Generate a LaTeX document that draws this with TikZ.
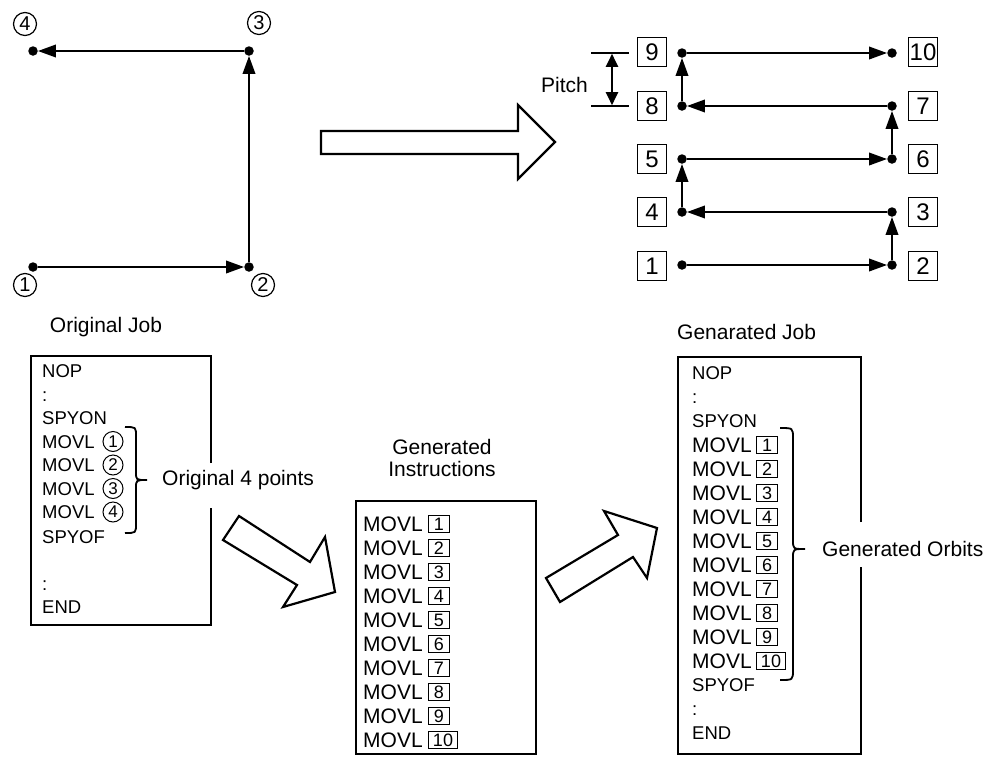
\documentclass[tikz,border=0pt]{standalone}
\usepackage{fontspec}
\setmainfont{Liberation Sans}
\usetikzlibrary{arrows.meta}
\begin{document}
\begin{tikzpicture}[x=1pt,y=-1pt,
  dot/.style={circle,fill=black,inner sep=0pt,minimum size=9.5pt},
  conn/.style={line width=2.1pt,-{Triangle[length=18pt,width=12.5pt]}},
  circnum/.style={circle,draw,line width=1.2pt,inner sep=0pt,minimum size=23pt,font=\fontsize{20}{20}\selectfont},
  smallcirc/.style={circle,draw,line width=1pt,inner sep=0pt,minimum size=20pt,font=\fontsize{17}{17}\selectfont},
  bignum/.style={draw,line width=1.4pt,minimum size=29pt,inner sep=0pt,font=\fontsize{24}{24}\selectfont},
  numbox/.style={draw,line width=1pt,minimum width=21pt,minimum height=17pt,inner sep=0pt,font=\fontsize{18}{18}\selectfont,anchor=west},
  jobtxt/.style={anchor=base west,inner sep=0pt,font=\fontsize{18.5}{18.5}\selectfont},
  movtxt/.style={anchor=base west,inner sep=0pt,font=\fontsize{21}{21}\selectfont},
  lbl/.style={inner sep=0pt,font=\fontsize{21}{21}\selectfont},
  jobbox/.style={line width=2.2pt},
  hollow/.style={draw,line width=2.2pt,line join=miter,fill=white},
  bracestyle/.style={line width=1.8pt}
]
\useasboundingbox (0,0) rectangle (997,756);

% ---------- top-left original path ----------
\node[dot] (p1) at (33,267) {};
\node[dot] (p2) at (249,267) {};
\node[dot] (p3) at (249,51) {};
\node[dot] (p4) at (33,51) {};
\draw[conn] (p1) -- (p2);
\draw[conn] (p2) -- (p3);
\draw[conn] (p3) -- (p4);
\node[circnum] (c1) at (25,285) {1};
\node[circnum] (c2) at (263,285) {2};
\node[circnum] (c3) at (259,23) {3};
\node[circnum] (c4) at (25,24) {4};

% ---------- big arrow ----------
\draw[hollow] (321,131) -- (518,131) -- (518,105) -- (555,142) -- (518,179) -- (518,154) -- (321,154) -- cycle;

% ---------- top-right generated path ----------
\node[dot] (q1) at (682,265) {};
\node[dot] (q2) at (892,265) {};
\node[dot] (q3) at (892,212) {};
\node[dot] (q4) at (682,212) {};
\node[dot] (q5) at (682,159) {};
\node[dot] (q6) at (892,159) {};
\node[dot] (q7) at (892,106) {};
\node[dot] (q8) at (682,106) {};
\node[dot] (q9) at (682,53) {};
\node[dot] (q10) at (892,53) {};
\foreach \a/\b in {1/2,2/3,3/4,4/5,5/6,6/7,7/8,8/9,9/10} {
  \draw[conn] (q\a) -- (q\b);
}
\node[bignum] (n1) at (652,266) {1};
\node[bignum] (n2) at (923,266) {2};
\node[bignum] (n3) at (923,212) {3};
\node[bignum] (n4) at (652,212) {4};
\node[bignum] (n5) at (652,159) {5};
\node[bignum] (n6) at (923,159) {6};
\node[bignum] (n7) at (923,106) {7};
\node[bignum] (n8) at (652,106) {8};
\node[bignum] (n9) at (652,52) {9};
\node[bignum] (n10) at (923,52) {10};

% pitch
\coordinate (pl1) at (591,53);
\coordinate (pr1) at (629,53);
\coordinate (pl2) at (591,106);
\coordinate (pr2) at (629,106);
\coordinate (pa) at (612,53.8);
\coordinate (pb) at (612,105.2);
\draw[line width=1.4pt] (pl1) -- (pr1);
\draw[line width=1.4pt] (pl2) -- (pr2);
\draw[line width=2.1pt,{Triangle[length=13pt,width=12pt]}-{Triangle[length=13pt,width=12pt]}] (pa) -- (pb);
\node[lbl,anchor=base east] (pitch) at (588,92.5) {Pitch};

% ---------- Original Job ----------
\node[lbl,anchor=base] (tOrig) at (106,332.5) {Original Job};
\draw[jobbox] (211,463) -- (211,356) -- (31,356) -- (31,625) -- (211,625) -- (211,508);
\node[jobtxt] (o1) at (42,377.5) {NOP};
\node[jobtxt] (o2) at (42,401) {:};
\node[jobtxt] (o3) at (42,424.5) {SPYON};
\node[jobtxt] (o4) at (42,448) {MOVL};
\node[jobtxt] (o5) at (42,471.5) {MOVL};
\node[jobtxt] (o6) at (42,495) {MOVL};
\node[jobtxt] (o7) at (42,518.5) {MOVL};
\node[jobtxt] (o8) at (42,543) {SPYOF};
\node[jobtxt] (o9) at (42,590) {:};
\node[jobtxt] (o10) at (42,613.5) {END};
\node[smallcirc] (oc1) at (113,441.5) {1};
\node[smallcirc] (oc2) at (113,465) {2};
\node[smallcirc] (oc3) at (113,488.5) {3};
\node[smallcirc] (oc4) at (113,512) {4};
\draw[bracestyle] (125,427) .. controls (136,427) .. (136,436) -- (136,472)
  .. controls (136,480) .. (147,480) .. controls (136,480) .. (136,488) -- (136,524)
  .. controls (136,533) .. (125,533);
\node[lbl,anchor=base west] (orig4) at (162,485.5) {Original 4 points};

% ---------- hollow arrow 1 ----------
\draw[hollow] (239,516) -- (310,562) -- (325,537) -- (335,592) -- (283,607) -- (297,585) -- (223,540) -- cycle;

% ---------- Generated Instructions ----------
\node[lbl,anchor=base] (tGen1) at (442,454.5) {Generated};
\node[lbl,anchor=base] (tGen2) at (442,476.5) {Instructions};
\draw[jobbox] (356,501) rectangle (536,754);
\foreach \i in {1,...,9} {
  \node[movtxt] (gi\i) at (363,{524+24*(\i-1)+7.5}) {MOVL};
  \node[numbox] (gib\i) at (428,{524+24*(\i-1)}) {\i};
}
\node[movtxt] (gi10) at (363,747.5) {MOVL};
\node[numbox,minimum width=29pt] (gib10) at (428,740) {10};

% ---------- hollow arrow 2 ----------
\draw[hollow] (546,578) -- (618,535) -- (604,511) -- (657,528) -- (647,578) -- (633,557) -- (560,602) -- cycle;

% ---------- Generated Job ----------
\node[lbl,anchor=base west] (tGenJob) at (677,339.5) {Genarated Job};
\draw[jobbox] (861,522) -- (861,357) -- (678,357) -- (678,754) -- (861,754) -- (861,567);
\node[jobtxt] (j1) at (692,379.6) {NOP};
\node[jobtxt] (j2) at (692,403.6) {:};
\node[jobtxt] (j3) at (692,427.6) {SPYON};
\foreach \i in {1,...,9} {
  \node[movtxt] (jm\i) at (692,{445+24*(\i-1)+7.5}) {MOVL};
  \node[numbox] (jb\i) at (756,{445+24*(\i-1)}) {\i};
}
\node[movtxt] (jm10) at (692,668.5) {MOVL};
\node[numbox,minimum width=29pt] (jb10) at (756,661) {10};
\node[jobtxt] (j4) at (692,691.6) {SPYOF};
\node[jobtxt] (j5) at (692,715.6) {:};
\node[jobtxt] (j6) at (692,739.6) {END};
\draw[bracestyle] (780,428) .. controls (793,428) .. (793,438) -- (793,540)
  .. controls (793,549) .. (805,549) .. controls (793,549) .. (793,558) -- (793,670)
  .. controls (793,680) .. (780,680);
\node[lbl,anchor=base west] (orbits) at (822,556.5) {Generated Orbits};

\end{tikzpicture}
\end{document}
